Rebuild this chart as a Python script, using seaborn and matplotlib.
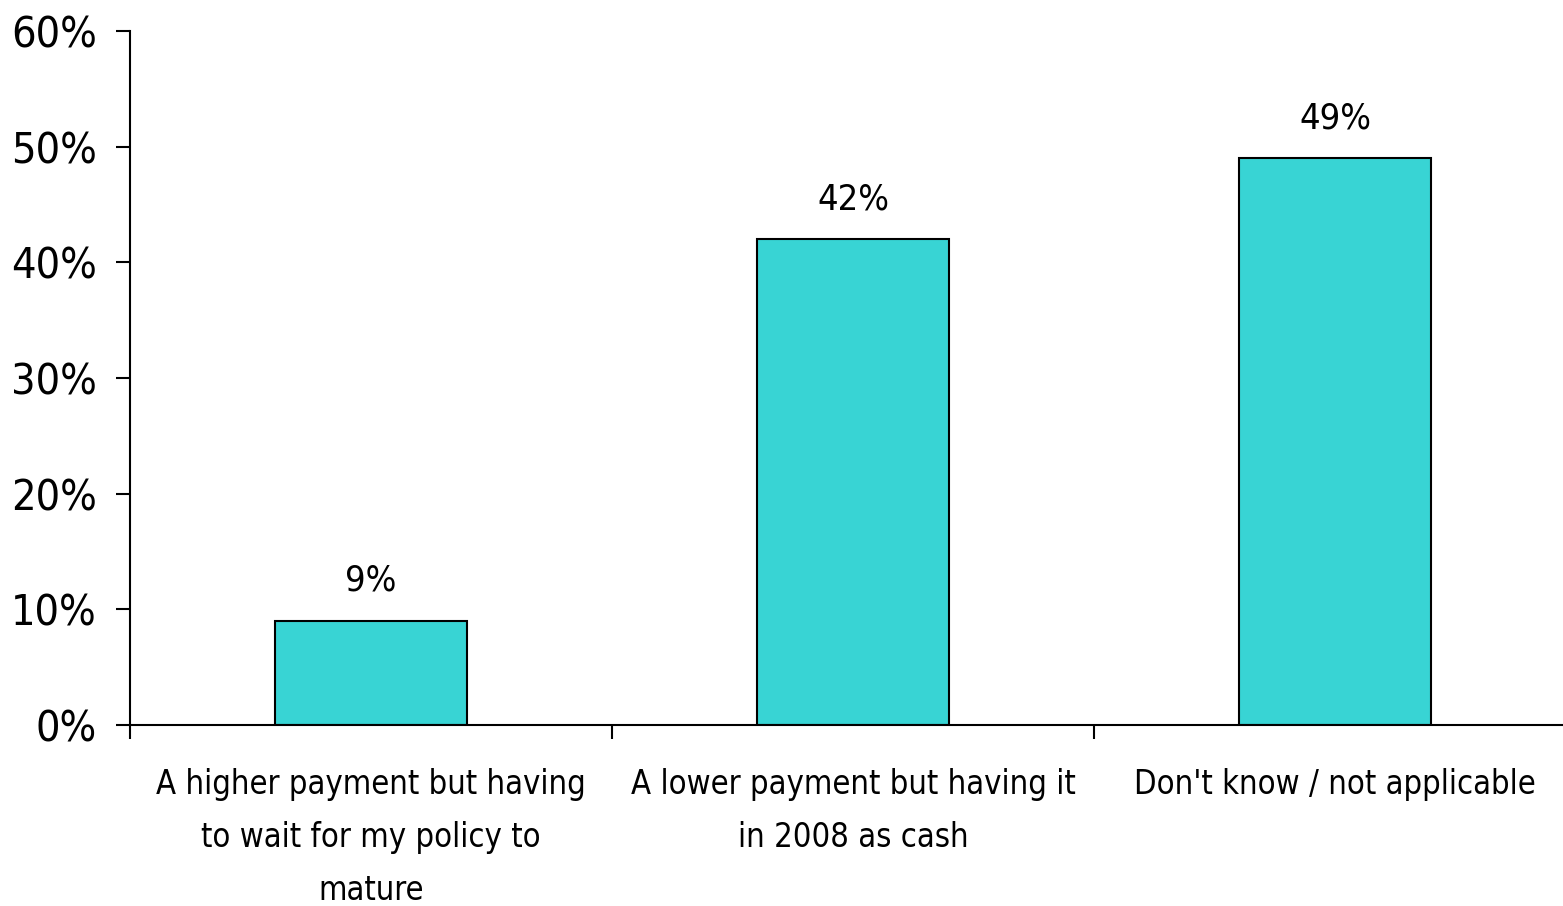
import matplotlib
matplotlib.use("Agg")
import matplotlib.pyplot as plt
import seaborn as sns
import pandas as pd
from matplotlib.ticker import FixedLocator, PercentFormatter

categories = [
    "A higher payment but having\nto wait for my policy to\nmature",
    "A lower payment but having it\nin 2008 as cash",
    "Don't know / not applicable",
]
values = [9, 42, 49]
value_labels = ["9%", "42%", "49%"]
y_ticks = [0, 10, 20, 30, 40, 50, 60]

sns.set_theme(style="white")
plt.rcParams["font.family"] = ["DejaVu Sans"]
plt.rcParams["font.stretch"] = "condensed"
plt.rcParams["text.color"] = "black"
plt.rcParams["xtick.color"] = "black"
plt.rcParams["ytick.color"] = "black"

df = pd.DataFrame({"category": categories, "value": values})

fig = plt.figure(figsize=(15.63, 9.06), dpi=100)
ax = fig.add_axes([130 / 1563, 181 / 906, 1446 / 1563, 694 / 906])

sns.barplot(data=df, x="category", y="value", color="#38D4D4", saturation=1,
            width=0.4, edgecolor="black", linewidth=1.5, ax=ax)

ax.set_xlim(-0.5, 2.5)
ax.set_ylim(0, 60)
ax.set_yticks(y_ticks)
ax.yaxis.set_major_formatter(PercentFormatter(decimals=0))
ax.set_xlabel("")
ax.set_ylabel("")

for i, (v, lab) in enumerate(zip(values, value_labels)):
    ax.text(i, v + 3.45, lab, ha="center", va="center", fontsize=26, color="black")

sns.despine(ax=ax, top=True, right=True)
for s in ("left", "bottom"):
    ax.spines[s].set_color("black")
    ax.spines[s].set_linewidth(1.5)

ax.tick_params(axis="y", which="major", direction="out", length=10, width=1.5,
               color="black", labelsize=31, pad=14, left=True)
ax.tick_params(axis="x", which="major", length=0, labelsize=23.5, pad=31)
ax.xaxis.set_minor_locator(FixedLocator([-0.5, 0.5, 1.5, 2.5]))
ax.tick_params(axis="x", which="minor", direction="out", length=10, width=1.5,
               color="black", bottom=True)
for t in ax.get_xticklabels():
    t.set_linespacing(1.76)
    t.set_verticalalignment("top")

fig.savefig("out.png", dpi=100)
